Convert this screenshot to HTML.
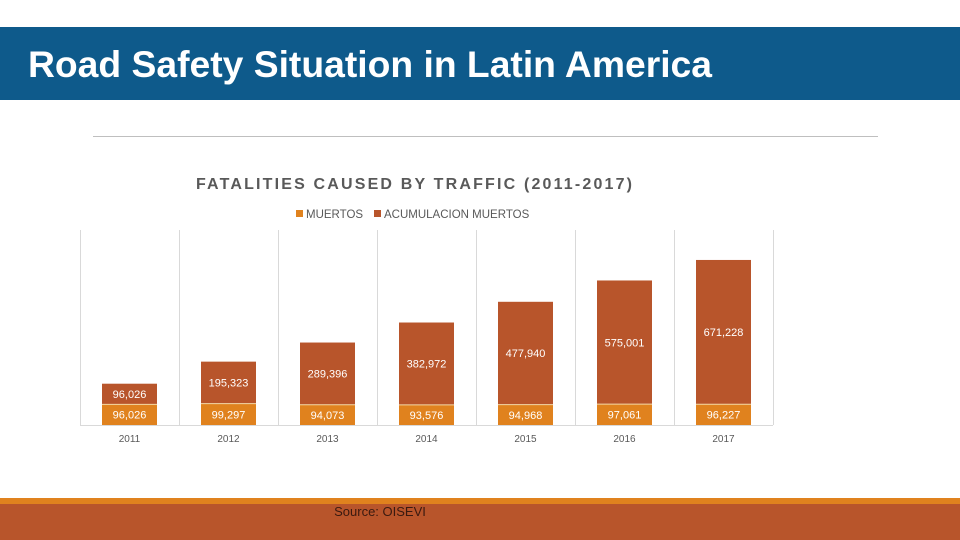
<!DOCTYPE html>
<html><head><meta charset="utf-8"><style>
html,body{margin:0;padding:0;width:960px;height:540px;overflow:hidden;background:#fff;font-family:"Liberation Sans",sans-serif}
svg{display:block}
</style></head><body>
<svg width="960" height="540" viewBox="0 0 960 540">
<rect x="0" y="27" width="960" height="73" fill="#0E5A8B"/>
<text x="28" y="77" font-family="Liberation Sans, sans-serif" font-size="37" font-weight="bold" fill="#fff" textLength="684" lengthAdjust="spacingAndGlyphs">Road Safety Situation in Latin America</text>
<line x1="93" y1="136.5" x2="878" y2="136.5" stroke="#bfbfbf" stroke-width="1"/>
<text x="196" y="189" font-size="16" font-weight="bold" fill="#595959" textLength="436" lengthAdjust="spacing">FATALITIES CAUSED BY TRAFFIC (2011-2017)</text>
<g>
<rect x="296" y="210" width="7" height="7" fill="#E0821E"/>
<text x="306" y="218" font-size="11.5" fill="#595959">MUERTOS</text>
<rect x="374" y="210" width="7" height="7" fill="#B8552B"/>
<text x="384" y="218" font-size="11.5" fill="#595959">ACUMULACION MUERTOS</text>
</g>
<g id="chart"></g>
<rect x="0" y="498" width="960" height="6" fill="#E0821E"/>
<rect x="0" y="504" width="960" height="36" fill="#B8552B"/>
<text x="380" y="516" text-anchor="middle" font-size="13" fill="#3a1a10">Source: OISEVI</text>
</svg>
<script>
const categories = ["2011","2012","2013","2014","2015","2016","2017"];
const muertos = [96026,99297,94073,93576,94968,97061,96227];
const acumulacion = [96026,195323,289396,382972,477940,575001,671228];

const NS = "http://www.w3.org/2000/svg";
const g = document.getElementById("chart");
const x0 = 80, x1 = 773, baseY = 425, pxPerUnit = 1/4650;
const band = (x1 - x0) / categories.length;
const barW = 55;
function xCenter(i){ return x0 + band * (i + 0.5); }
function h(v){ return v * pxPerUnit; }
function fmt(v){ return v.toLocaleString("en-US"); }
function mk(tag, attrs){ const e = document.createElementNS(NS, tag); for (const k in attrs) e.setAttribute(k, attrs[k]); g.appendChild(e); return e; }

for (let i = 0; i <= categories.length; i++) {
  const gx = Math.round(x0 + band * i) + 0.5;
  const gl = mk("line", {x1: gx, y1: 230, x2: gx, y2: baseY, stroke: "#d9d9d9", "stroke-width": 1});
  
  
}
const ax = mk("line", {x1: x0, y1: baseY + 0.5, x2: x1, y2: baseY + 0.5, stroke: "#d9d9d9", "stroke-width": 1});



categories.forEach((c, i) => {
  const cx = xCenter(i);
  const hm = h(muertos[i]);
  const ha = h(acumulacion[i]);
  const b1 = mk("rect", {x: cx - barW/2, y: baseY - hm, width: barW, height: hm, fill: "#E0821E"});
  
  
  const b2 = mk("rect", {x: cx - barW/2, y: baseY - hm - ha, width: barW, height: ha, fill: "#B8552B"});
  
  
  const sep = mk("line", {x1: cx - barW/2, y1: baseY - hm, x2: cx + barW/2, y2: baseY - hm, stroke: "#f3d9a8", "stroke-width": 1});
  
  
  const t1 = mk("text", {x: cx, y: baseY - hm/2 + 4, "text-anchor": "middle", "font-size": 11, fill: "#fff"});
  t1.textContent = fmt(muertos[i]);
  
  
  const t2 = mk("text", {x: cx, y: baseY - hm - ha/2 + 4, "text-anchor": "middle", "font-size": 11, fill: "#fff"});
  t2.textContent = fmt(acumulacion[i]);
  
  
  const tc = mk("text", {x: cx, y: 442, "text-anchor": "middle", "font-size": 10, fill: "#595959"});
  tc.textContent = c;
  
  
});
</script>
</body></html>
